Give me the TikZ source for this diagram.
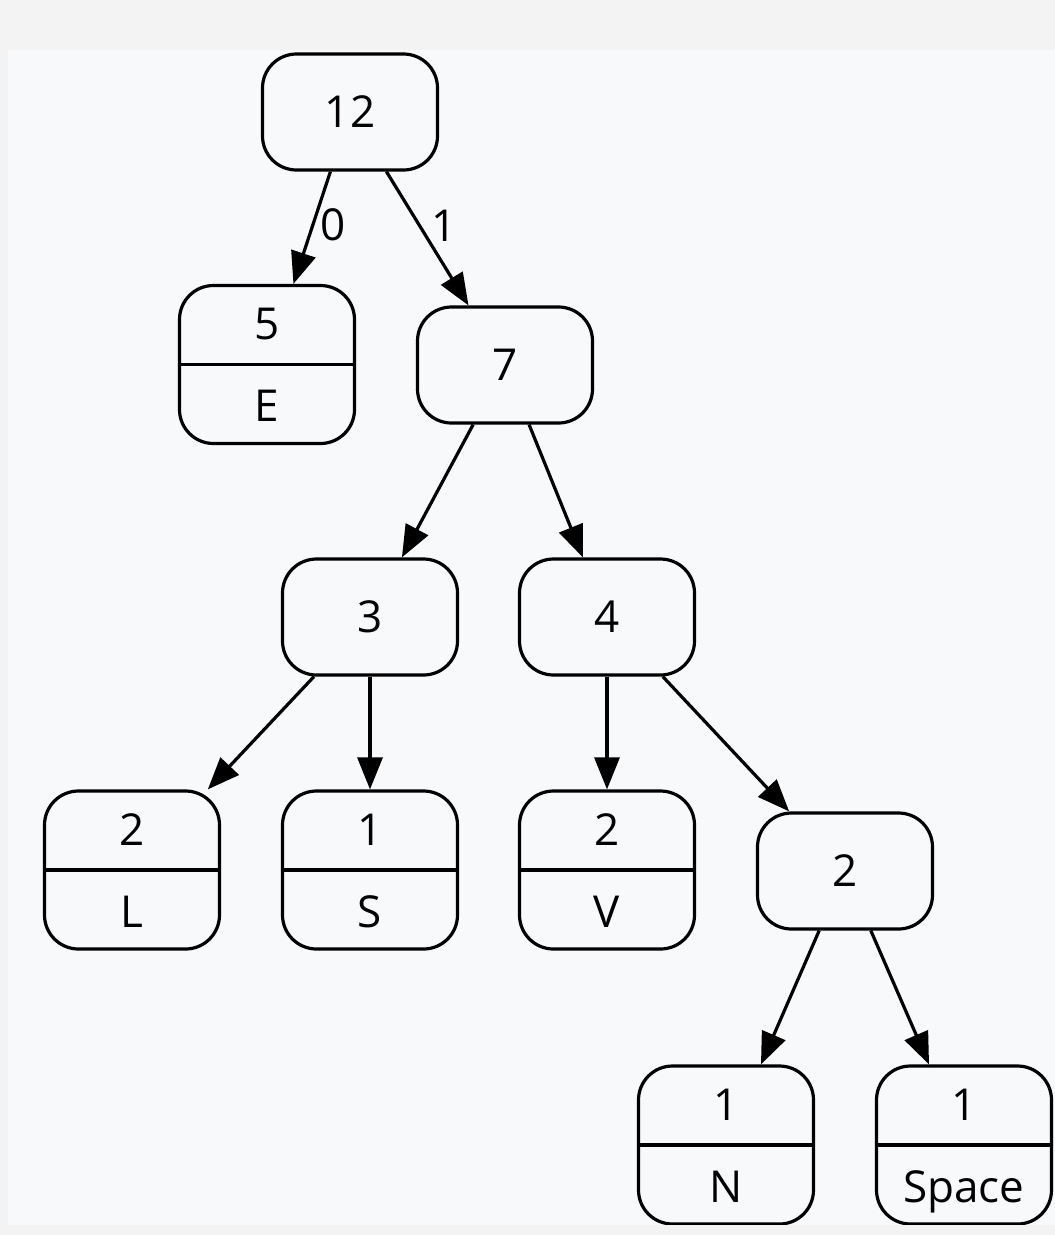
\documentclass[tikz,border=0pt]{standalone}
\usepackage{fontspec}
\setmainfont{Open Sans}
\usetikzlibrary{arrows.meta,calc}
\definecolor{outerbg}{HTML}{F3F3F3}
\definecolor{innerbg}{HTML}{F8F9FA}
\begin{document}
\begin{tikzpicture}[x=1pt,y=-1pt,
  every node/.style={font=\fontsize{44}{50}\selectfont},
  inode/.style={draw, line width=3.2pt, rounded corners=34pt, minimum width=175pt, minimum height=116pt, fill=innerbg, inner sep=0pt},
  leaf/.style={inode, minimum height=158pt},
  edge/.style={line width=3.2pt, -{Triangle[length=32pt,width=25pt]}},
  lab/.style={anchor=base, inner sep=0pt},
  divider/.style={line width=3.2pt}]
\useasboundingbox (0,0) rectangle (1055,1235);
\fill[outerbg] (0,0) rectangle (1055,1235);
\fill[innerbg] (8,50) rectangle (1055,1225);

% internal nodes
\node[inode] (n12) at (350,112) {12};
\node[inode] (n7) at (505,365) {7};
\node[inode] (n3) at (370,617) {3};
\node[inode] (n4) at (607,617) {4};
\node[inode] (n2i) at (845,871) {2};

% leaves
\node[leaf] (n5) at (267,364.5) {};
\node[leaf] (nL) at (132,870) {};
\node[leaf] (nS) at (370,870) {};
\node[leaf] (nV) at (607,870) {};
\node[leaf] (nN) at (726,1145) {};
\node[leaf] (nSp) at (964,1145) {};

\foreach \n/\a/\b in {n5/5/E, nL/2/L, nS/1/S, nV/2/V, nN/1/N, nSp/1/Space}{
  \draw[divider] (\n.west) -- (\n.east);
  \node[lab] (\n-top) at ($(\n.center)+(0,-25)$) {\a};
  \node[lab] (\n-bot) at ($(\n.center)+(0,57)$) {\b};
}

% edges
\draw[edge] (n12) -- node[xshift=21pt, yshift=3pt] (l0) {0} (n5);
\draw[edge] (n12) -- node[xshift=17pt, yshift=13pt] (l1) {1} (n7);
\draw[edge] (n7) -- (n3);
\draw[edge] (n7) -- (n4);
\draw[edge] (n3) -- (nL);
\draw[edge] (n3) -- (nS);
\draw[edge] (n4) -- (nV);
\draw[edge] (n4) -- (n2i);
\draw[edge] (n2i) -- (nN);
\draw[edge] (n2i) -- (nSp);

\fill[outerbg] (0,1225) rectangle (1055,1235);
\end{tikzpicture}
\end{document}
